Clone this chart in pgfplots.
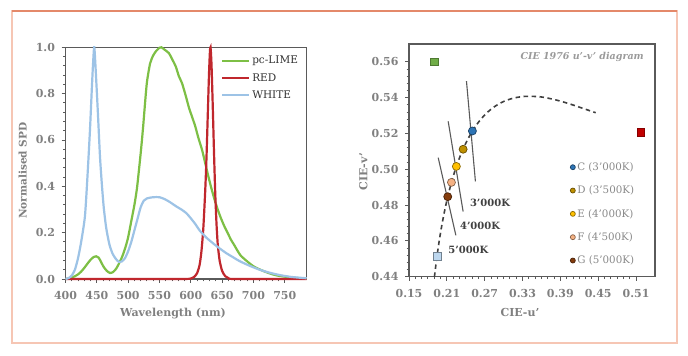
\documentclass[border=0pt]{standalone}
\usepackage{pgfplots}
\pgfplotsset{compat=1.18}
\usepackage{fontspec}
\setmainfont{DejaVu Serif}
\definecolor{axgray}{HTML}{5A5A5A}
\definecolor{tickgray}{HTML}{808080}
\definecolor{leggray}{HTML}{8A8A8A}
\definecolor{titlegray}{HTML}{9A9A9A}
\definecolor{lblgray}{HTML}{404040}
\definecolor{legdark}{HTML}{333333}
\definecolor{framepink}{HTML}{F6C6B4}
\definecolor{frametop}{HTML}{E4896A}
\definecolor{limeG}{HTML}{7DBF45}
\definecolor{redR}{HTML}{C0272D}
\definecolor{whiteB}{HTML}{9DC3E6}
\definecolor{cC}{HTML}{2E75B6}
\definecolor{cD}{HTML}{BF9000}
\definecolor{cE}{HTML}{FFC000}
\definecolor{cF}{HTML}{F4B183}
\definecolor{cG}{HTML}{843C0C}
\definecolor{sqG}{HTML}{70AD47}
\definecolor{sqR}{HTML}{C00000}
\definecolor{sqW}{HTML}{BDD7EE}

\pgfplotstableread{
x y
400 0
405 0.002
410 0.006
415 0.012
420 0.02
425 0.032
430 0.048
435 0.066
440 0.083
445 0.095
449 0.098
453 0.092
457 0.072
461 0.052
466 0.035
471 0.026
476 0.03
481 0.045
486 0.07
491 0.10
496 0.14
500 0.18
505 0.25
510 0.32
514 0.39
518 0.49
521 0.57
524 0.66
527 0.76
530 0.85
535 0.93
540 0.965
545 0.985
550 0.998
553 1.0
558 0.99
565 0.975
570 0.95
576 0.917
581 0.875
586 0.845
592 0.79
597 0.74
602 0.70
607 0.66
612 0.61
618 0.557
623 0.50
628 0.443
633 0.39
638 0.342
643 0.30
648 0.263
654 0.225
659 0.198
664 0.17
669 0.148
675 0.12
680 0.10
690 0.076
700 0.055
711 0.04
720 0.03
732 0.019
742 0.013
753 0.009
765 0.005
785 0.002
}\limetable

\pgfplotstableread{
x y
400 0
580 0
600 0.002
605 0.008
610 0.025
614 0.06
617 0.12
620 0.22
623 0.38
625 0.52
627 0.70
629 0.88
630.5 0.98
631.5 1.0
633 0.93
635 0.75
637 0.55
639 0.37
641 0.24
643 0.15
646 0.08
650 0.035
655 0.012
660 0.004
670 0
785 0
}\redtable

\pgfplotstableread{
x y
400 0
405 0.004
410 0.015
415 0.04
420 0.09
425 0.16
431 0.27
435 0.44
439 0.64
442 0.82
444 0.93
446 1.0
449 0.86
452 0.70
455 0.53
458 0.41
461 0.31
465 0.22
470 0.15
475 0.11
480 0.088
485 0.074
490 0.076
495 0.09
500 0.12
505 0.16
510 0.21
515 0.26
520 0.31
525 0.338
530 0.348
540 0.353
550 0.353
558 0.345
566 0.333
577 0.313
585 0.30
593 0.284
600 0.262
607 0.238
614 0.21
620 0.192
625 0.178
636 0.153
647 0.13
657 0.111
668 0.093
678 0.077
694 0.057
710 0.04
726 0.027
742 0.017
760 0.009
785 0.003
}\whitetable

\pgfplotstableread{
u v
0.19032 0.43989
0.19462 0.45212
0.19962 0.46382
0.20525 0.47471
0.21142 0.48468
0.21807 0.49364
0.22511 0.50159
0.23247 0.50856
0.24010 0.51462
0.24792 0.51983
0.25591 0.52427
0.26400 0.52800
0.27218 0.53111
0.28039 0.53366
0.28863 0.53571
0.29685 0.53735
0.30505 0.53861
0.31320 0.53952
0.32129 0.54017
0.32931 0.54057
0.33724 0.54077
0.3579 0.5405
0.380 0.5390
0.405 0.5365
0.446 0.5316
}\locus

\pgfplotsset{
  mystyle/.style={
    scale only axis, anchor=south west, clip=false,
    axis line style={draw=axgray, line width=1.3pt},
    tick align=outside, tick pos=left,
    major tick length=4pt, minor tick length=2.5pt,
    every tick/.style={draw=axgray, line width=0.9pt},
    ticklabel style={font=\fontsize{11}{13}\selectfont\bfseries, text=tickgray},
    xticklabel style={yshift=-5pt},
    yticklabel style={xshift=-3pt},
    /pgf/number format/assume math mode=true,
  }
}

\begin{document}
\begin{tikzpicture}[x=1pt,y=1pt]
\path[use as bounding box, fill=white] (0,0) rectangle (688,356);
\draw[framepink, line width=1.3pt] (12,13) rectangle (677,345);
\draw[frametop, line width=1.1pt] (12,345) -- (677,345);

% ---------- Left: SPD ----------
\begin{axis}[mystyle,
  at={(65.5pt,77pt)}, width=241.2pt, height=231.7pt,
  xmin=400, xmax=785, ymin=0, ymax=1,
  xtick={400,450,...,750}, minor x tick num=4,
  ytick={0,0.2,...,1.0}, minor y tick num=4,
  yticklabel style={/pgf/number format/.cd, fixed, fixed zerofill, precision=1},
  xticklabel style={/pgf/number format/.cd, fixed, precision=0},
  xlabel={Wavelength (nm)}, ylabel={Normalised SPD},
  every axis x label/.style={at={(rel axis cs:0.446,0)}, anchor=center, yshift=-34.3pt,
    font=\fontsize{11}{13}\selectfont\bfseries, text=tickgray},
  every axis y label/.style={at={(rel axis cs:0,0.467)}, anchor=center, rotate=90, yshift=42.8pt,
    font=\fontsize{10.5}{13}\selectfont\bfseries, text=tickgray},
  legend style={at={(rel axis cs:0.64,0.975)}, anchor=north west, draw=none, fill=none,
    font=\fontsize{10.5}{12}\selectfont, text=legdark, row sep=4pt, inner sep=1pt},
  legend cell align=left,
  legend image code/.code={\draw[#1, line width=2.2pt] (0pt,0pt) -- (27pt,0pt);},
]
\addplot[limeG, line width=2.2pt, smooth, tension=0.4] table[x=x,y=y] {\limetable};
\addlegendentry{pc-LIME}
\addplot[redR, line width=2.2pt, smooth, tension=0.4] table[x=x,y=y] {\redtable};
\addlegendentry{RED}
\addplot[whiteB, line width=2.2pt, smooth, tension=0.4] table[x=x,y=y] {\whitetable};
\addlegendentry{WHITE}
\end{axis}

% ---------- Right: CIE u'v' ----------
\begin{axis}[mystyle,
  at={(409pt,79.3pt)}, width=246pt, height=232.7pt,
  xmin=0.15, xmax=0.54, ymin=0.44, ymax=0.57,
  xtick={0.15,0.21,0.27,0.33,0.39,0.45,0.51}, minor x tick num=5,
  ytick={0.44,0.46,0.48,0.50,0.52,0.54,0.56}, minor y tick num=4,
  xticklabel style={/pgf/number format/.cd, fixed, fixed zerofill, precision=2},
  yticklabel style={/pgf/number format/.cd, fixed, fixed zerofill, precision=2},
  xlabel={CIE-u'}, ylabel={CIE-v'},
  every axis x label/.style={at={(rel axis cs:0.451,0)}, anchor=center, yshift=-36pt,
    font=\fontsize{11}{13}\selectfont\bfseries, text=tickgray},
  every axis y label/.style={at={(rel axis cs:0,0.451)}, anchor=center, rotate=90, yshift=45.7pt,
    font=\fontsize{11}{13}\selectfont\bfseries, text=tickgray},
  legend style={at={(rel axis cs:0.655,0.50)}, anchor=north west, draw=none, fill=none,
    font=\fontsize{10.3}{11}\selectfont, text=leggray, row sep=10pt, inner sep=0pt},
  legend cell align=left,
  legend image code/.code={\draw[#1, mark size=2.5pt] plot coordinates {(3pt,0pt)};},
]
% isotherms
\addplot[forget plot, axgray, line width=1.1pt] coordinates {(0.2411,0.5493) (0.2553,0.4932)};
\addplot[forget plot, axgray, line width=1.1pt] coordinates {(0.2121,0.5268) (0.2358,0.4764)};
\addplot[forget plot, axgray, line width=1.1pt] coordinates {(0.1963,0.5065) (0.2243,0.4631)};
% Planckian locus
\addplot[forget plot, lblgray, line width=1.6pt, dash pattern=on 4.5pt off 3.5pt, smooth] table[x=u,y=v] {\locus};
% LED squares
\addplot[forget plot, only marks, mark=square*, mark size=3.8pt, mark options={fill=sqG, draw=sqG!70!black, line width=0.7pt}] coordinates {(0.190,0.560)};
\addplot[forget plot, only marks, mark=square*, mark size=3.8pt, mark options={fill=sqR, draw=sqR!70!black, line width=0.7pt}] coordinates {(0.5176,0.5208)};
\addplot[forget plot, only marks, mark=square*, mark size=3.8pt, mark options={fill=sqW, draw=sqW!60!black, line width=0.7pt}] coordinates {(0.1953,0.4515)};
% mixtures
\addplot[only marks, mark=*, mark size=4pt, mark options={fill=cC, draw=cC!55!black, line width=0.7pt}] coordinates {(0.2505,0.5214)};
\addlegendentry{C (3'000K)}
\addplot[only marks, mark=*, mark size=4pt, mark options={fill=cD, draw=cD!55!black, line width=0.7pt}] coordinates {(0.2358,0.5112)};
\addlegendentry{D (3'500K)}
\addplot[only marks, mark=*, mark size=4pt, mark options={fill=cE, draw=cE!55!black, line width=0.7pt}] coordinates {(0.2251,0.5016)};
\addlegendentry{E (4'000K)}
\addplot[only marks, mark=*, mark size=4pt, mark options={fill=cF, draw=cF!55!black, line width=0.7pt}] coordinates {(0.2173,0.4927)};
\addlegendentry{F (4'500K)}
\addplot[only marks, mark=*, mark size=4pt, mark options={fill=cG, draw=cG!55!black, line width=0.7pt}] coordinates {(0.2114,0.4847)};
\addlegendentry{G (5'000K)}
% labels
\node[anchor=west, font=\fontsize{10}{12}\selectfont\bfseries, text=lblgray, inner sep=0pt] at (axis cs:0.2464,0.481) {3'000K};
\node[anchor=west, font=\fontsize{10}{12}\selectfont\bfseries, text=lblgray, inner sep=0pt] at (axis cs:0.2306,0.4686) {4'000K};
\node[anchor=west, font=\fontsize{10}{12}\selectfont\bfseries, text=lblgray, inner sep=0pt] at (axis cs:0.2121,0.4548) {5'000K};
\node[anchor=east, font=\fontsize{9.5}{11}\selectfont\bfseries\itshape, text=titlegray, inner sep=0pt] at (rel axis cs:0.955,0.943) {CIE 1976 u'-v' diagram};
\end{axis}
\end{tikzpicture}
\end{document}
